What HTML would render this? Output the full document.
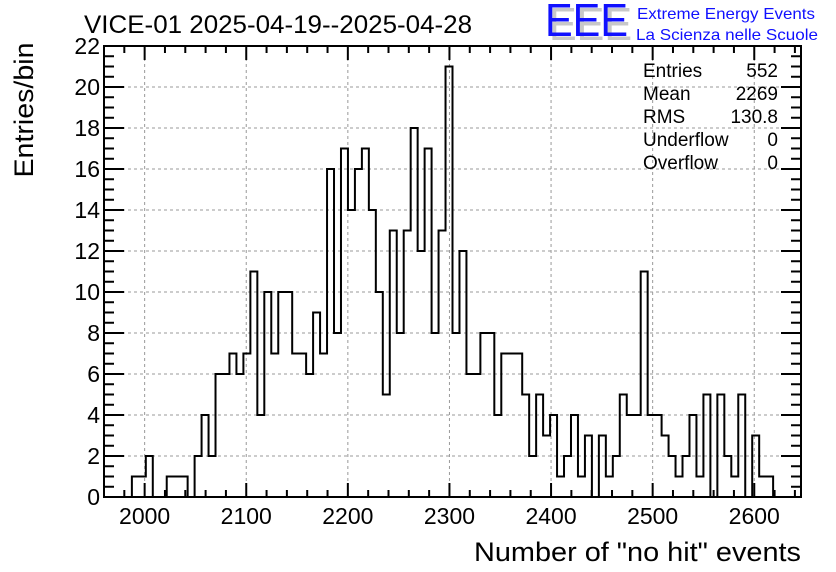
<!DOCTYPE html>
<html><head><meta charset="utf-8"><style>
html,body{margin:0;padding:0;background:#fff}
svg{display:block;font-family:"Liberation Sans",sans-serif}
</style></head><body>
<svg id="chart" width="836" height="572" viewBox="0 0 836 572">
<text x="84" y="33" font-size="25" textLength="388" lengthAdjust="spacingAndGlyphs">VICE-01 2025-04-19--2025-04-28</text>
<g>
<text x="549" y="40" font-size="46" fill="#c8c8c8" textLength="83" lengthAdjust="spacingAndGlyphs">EEE</text>
<text x="545" y="36" font-size="46" fill="#1010ff" textLength="83" lengthAdjust="spacingAndGlyphs">EEE</text>
<text x="637" y="19" font-size="16" fill="#1010ff" textLength="178" lengthAdjust="spacingAndGlyphs">Extreme Energy Events</text>
<text x="636" y="40" font-size="16" fill="#1010ff" textLength="182" lengthAdjust="spacingAndGlyphs">La Scienza nelle Scuole</text>
</g>
<g id="grid"></g>
<g id="axes"></g>
<path id="hist" fill="none" stroke="#000" stroke-width="2"></path>
<rect x="104" y="46" width="697" height="451" fill="none" stroke="#000" stroke-width="2"></rect>
<text transform="translate(33,110) rotate(-90)" text-anchor="middle" font-size="27" textLength="135" lengthAdjust="spacingAndGlyphs">Entries/bin</text>
<text x="801" y="561" text-anchor="end" font-size="27" textLength="327" lengthAdjust="spacingAndGlyphs">Number of "no hit" events</text>
<g font-size="19">
<text x="643" y="77">Entries</text><text x="778" y="77" text-anchor="end">552</text>
<text x="643" y="100">Mean</text><text x="778" y="100" text-anchor="end">2269</text>
<text x="643" y="123">RMS</text><text x="778" y="123" text-anchor="end">130.8</text>
<text x="643" y="146">Underflow</text><text x="778" y="146" text-anchor="end">0</text>
<text x="643" y="169">Overflow</text><text x="778" y="169" text-anchor="end">0</text>
</g>
</svg>
<script>
const binMin = 1960;
const binWidth = 6.86;
const counts = [0,0,0,0,1,1,2,0,0,1,1,1,0,2,4,2,6,6,7,6,7,11,4,10,7,10,10,7,7,6,9,7,16,8,17,
14,16,17,14,10,5,13,8,13,18,12,17,8,13,21,8,12,6,6,8,8,4,7,7,7,5,2,5,3,4,1,2,4,
1,3,0,3,1,2,5,4,4,11,4,4,3,2,1,2,4,1,5,0,5,2,1,5,0,3,1,1,0,0,0,0];
const xTicks = [2000,2100,2200,2300,2400,2500,2600];
const yTicks = [0,2,4,6,8,10,12,14,16,18,20,22];

const X0=104,X1=801,Y0=497,Y1=46,xMin=1960,xMax=2646,yMax=22;
const sx=v=>X0+(v-xMin)/(xMax-xMin)*(X1-X0);
const sy=v=>Y0-v/yMax*(Y0-Y1);
const NS="http://www.w3.org/2000/svg";
const grid=document.getElementById('grid'), axes=document.getElementById('axes');
function line(p,x1,y1,x2,y2,st,w,dash){const l=document.createElementNS(NS,'line');
l.setAttribute('x1',x1);l.setAttribute('y1',y1);l.setAttribute('x2',x2);l.setAttribute('y2',y2);
l.setAttribute('stroke',st);l.setAttribute('stroke-width',w);if(dash)l.setAttribute('stroke-dasharray',dash);p.appendChild(l);return l;}
function txt(x,y,s,anchor){const t=document.createElementNS(NS,'text');t.setAttribute('x',x);t.setAttribute('y',y);
t.setAttribute('font-size','23');t.setAttribute('text-anchor',anchor);t.textContent=s;axes.appendChild(t);return t;}
xTicks.forEach(v=>{const x=sx(v);
const g=line(grid,x,Y1,x,Y0,'#999',1,'3,3');


const t=txt(x,524,String(v),'middle');

});
yTicks.forEach(v=>{const y=sy(v);
if(v>0&&v<yMax){const g=line(grid,X0,y,X1,y,'#999',1,'3,3');

}
const t=txt(100,y+8,String(v),'end');

});
for(let v=1980;v<=2640;v+=20){const x=sx(v);const len=(v%100===0)?14:7;
line(axes,x,Y0,x,Y0-len,'#000',2);line(axes,x,Y1,x,Y1+len,'#000',2);}
for(let v=0;v<=yMax;v+=0.5){const y=sy(v);const len=(v%2===0)?20:10;
line(axes,X0,y,X0+len,y,'#000',2);line(axes,X1,y,X1-len,y,'#000',2);}
let d='M'+sx(binMin)+','+sy(0);
counts.forEach((c,i)=>{const a=sx(binMin+i*binWidth),b=sx(binMin+(i+1)*binWidth);
d+=' L'+a+','+sy(c)+' L'+b+','+sy(c);});
d+=' L'+sx(binMin+counts.length*binWidth)+','+sy(0);
document.getElementById('hist').setAttribute('d',d);
</script>
</body></html>
